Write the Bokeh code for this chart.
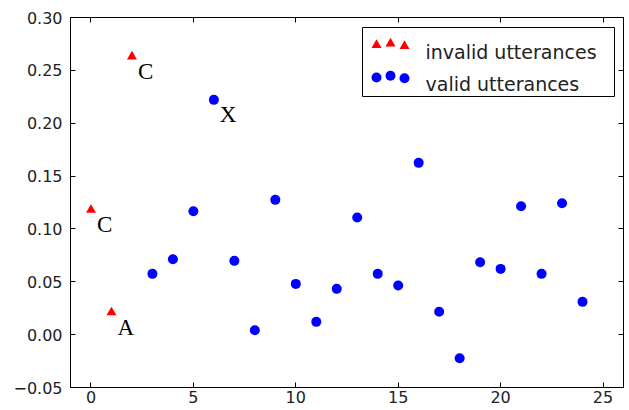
from bokeh.plotting import figure
from bokeh.models import Range1d, FixedTicker, LinearAxis, Label
from bokeh.core.properties import value
from bokeh.embed import file_html
from bokeh.resources import INLINE

# ---- data ----
invalid_x = [0, 1, 2]
invalid_y = [0.118, 0.021, 0.263]
valid_x = [3, 4, 5, 6, 7, 8, 9, 10, 11, 12, 13, 14, 15, 16, 17, 18, 19, 20, 21, 22, 23, 24]
valid_y = [0.0575, 0.0714, 0.1168, 0.2221, 0.0698, 0.0042, 0.1275, 0.0480, 0.0121, 0.0433,
           0.1108, 0.0575, 0.0465, 0.1625, 0.0216, -0.0223, 0.0685, 0.0622, 0.1215, 0.0575,
           0.1243, 0.0310]
note_text = ["C", "A", "C", "X"]
note_x = [0, 1, 2, 6]
note_y = [0.118, 0.021, 0.263, 0.2221]
x_ticks = [0, 5, 10, 15, 20, 25]
y_ticks = [-0.05, 0.0, 0.05, 0.1, 0.15, 0.2, 0.25, 0.3]
y_tick_labels = ["\u22120.05", "0.00", "0.05", "0.10", "0.15", "0.20", "0.25", "0.30"]
legend_labels = ["invalid utterances", "valid utterances"]

FW, FH = 553, 370
p = figure(width=629, height=410, output_backend="svg", toolbar_location=None,
           x_range=Range1d(-1, 26), y_range=Range1d(-0.05, 0.30),
           min_border_left=70, min_border_right=6, min_border_top=17, min_border_bottom=23,
           x_axis_location=None, y_axis_location=None)
p.background_fill_color = "white"
p.border_fill_color = "white"
p.outline_line_color = "black"
p.outline_line_width = 1
p.xgrid.visible = False
p.ygrid.visible = False

def style_axis(ax):
    ax.axis_line_color = "black"
    ax.major_tick_in = 5
    ax.major_tick_out = 0
    ax.minor_tick_in = 0
    ax.minor_tick_out = 0
    ax.major_tick_line_color = "black"
    ax.major_label_text_font = "DejaVu Sans"
    ax.major_label_text_color = "#222222"
    ax.major_label_text_font_size = "16px"

xb = LinearAxis(ticker=FixedTicker(ticks=x_ticks))
style_axis(xb)
xb.major_label_standoff = 3
xt = LinearAxis(ticker=FixedTicker(ticks=x_ticks),
                major_label_overrides={t: "" for t in x_ticks})
style_axis(xt)
xt.major_label_standoff = 0
yl = LinearAxis(ticker=FixedTicker(ticks=y_ticks),
                major_label_overrides={t: l for t, l in zip(y_ticks, y_tick_labels)})
style_axis(yl)
yl.major_label_standoff = 8
yr = LinearAxis(ticker=FixedTicker(ticks=y_ticks),
                major_label_overrides={t: "" for t in y_ticks})
style_axis(yr)
yr.major_label_standoff = 0
p.add_layout(xb, "below")
p.add_layout(xt, "above")
p.add_layout(yl, "left")
p.add_layout(yr, "right")

p.scatter(invalid_x, invalid_y, marker="triangle", size=10, fill_color="red", line_color=None)
p.scatter(valid_x, valid_y, marker="circle", size=10, fill_color="blue", line_color=None)

p.text(x=note_x, y=note_y, text=note_text, x_offset=6, y_offset=15,
       text_font=value("Liberation Serif"), text_font_size="23px", text_color="black",
       text_align="left", text_baseline="alphabetic")

# ---- legend (drawn in frame pixel space) ----
p.extra_x_ranges["px"] = Range1d(0, FW)
p.extra_y_ranges["py"] = Range1d(0, FH)
LEG_L, LEG_R, LEG_B, LEG_T = 292, 544, 291, 360
p.quad(left=[LEG_L], right=[LEG_R], bottom=[LEG_B], top=[LEG_T],
       fill_color="white", line_color="black", line_width=1,
       x_range_name="px", y_range_name="py")
hx = [306, 320, 334]
row1 = [342.5, 344, 341.5]
row2 = [310, 311.7, 309.3]
p.scatter(hx, row1, marker="triangle", size=10, fill_color="red", line_color=None,
          x_range_name="px", y_range_name="py")
p.scatter(hx, row2, marker="circle", size=10, fill_color="blue", line_color=None,
          x_range_name="px", y_range_name="py")
for lab, yy in zip(legend_labels, [335.5, 304]):
    p.add_layout(Label(x=355, y=yy, text=lab, x_range_name="px", y_range_name="py",
                       text_font="DejaVu Sans", text_font_size="19px", text_color="#222222",
                       text_baseline="alphabetic", text_align="left"))

open("out.html", "w").write(file_html(p, INLINE))
